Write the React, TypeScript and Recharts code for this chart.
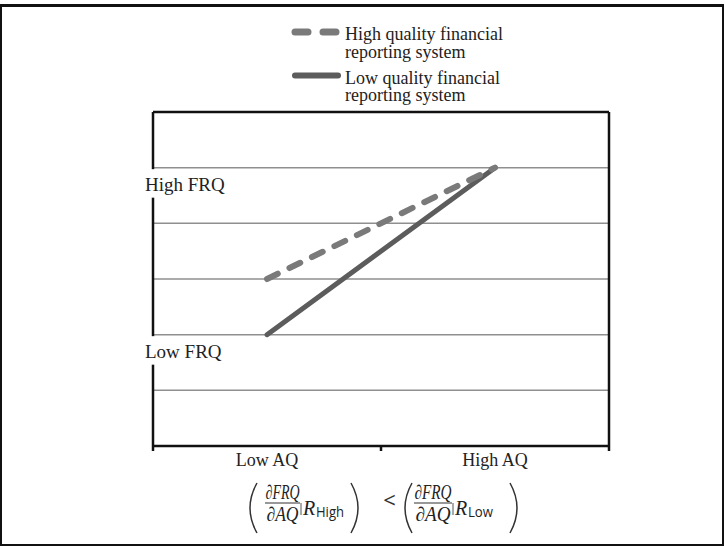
import React from 'react';
import { LineChart, Line, XAxis, YAxis, CartesianGrid, Legend } from 'recharts';

// ---- data ----
const categories = ['Low AQ', 'High AQ'];
const highQualityFRQ = [3, 5];
const lowQualityFRQ = [2, 5];
const yTickValues = [2, 5];
const yTickLabels = ['Low FRQ', 'High FRQ'];
const gridValues = [1, 2, 3, 4, 5];
const xTickValues = [0, 0.5, 1, 1.5, 2];
const seriesNames = [
  'High quality financial reporting system',
  'Low quality financial reporting system',
];

const data = categories.map((c, i) => ({
  x: i + 0.5,
  cat: c,
  high: highQualityFRQ[i],
  low: lowQualityFRQ[i],
}));

const SERIF = '"Liberation Serif", "Times New Roman", serif';
const SANS = '"Open Sans", "Noto Sans", sans-serif';
const AXIS = { stroke: '#111', strokeWidth: 2.5 };

const XTick = (props: any) => {
  const { x, y, payload } = props;
  const v = payload.value;
  if (Number.isInteger(v)) {
    return <line x1={x} x2={x} y1={y} y2={y + 5} stroke="#111" strokeWidth={2.5} />;
  }
  return (
    <text x={x} y={y + 20} textAnchor="middle" fontFamily={SERIF} fontSize={18} fill="#222">
      {categories[Math.floor(v)]}
    </text>
  );
};

const YTick = (props: any) => {
  const { x, y, payload } = props;
  const label = yTickLabels[yTickValues.indexOf(payload.value)];
  return (
    <g>
      <rect x={x - 4} y={y + 1.5} width={8} height={28.5} fill="#fff" />
      <text x={x - 8} y={y + 23} fontFamily={SERIF} fontSize={19} fill="#222">
        {label}
      </text>
    </g>
  );
};

const LegendContent = (props: any) => {
  const payload = props.payload || [];
  return (
    <svg width={724} height={112} style={{ display: 'block' }}>
      {payload.map((p: any, i: number) => {
        const words = String(p.value).split(' ');
        const l1 = words.slice(0, 3).join(' ');
        const l2 = words.slice(3).join(' ');
        const base = 40 + i * 43.5;
        const dashed = p.payload && p.payload.strokeDasharray;
        return (
          <g key={i}>
            <line
              x1={295}
              x2={dashed ? 337 : 338}
              y1={base - 8}
              y2={base - 8}
              stroke={p.color}
              strokeWidth={dashed ? 7 : 6}
              strokeLinecap="round"
              strokeDasharray={dashed ? '13 15' : undefined}
            />
            <text x={345} y={base} fontFamily={SERIF} fontSize={18} fill="#222">{l1}</text>
            <text x={345} y={base + 17.5} fontFamily={SERIF} fontSize={18} fill="#222">{l2}</text>
          </g>
        );
      })}
    </svg>
  );
};

const Paren = ({ x1, c, y0, y1 }: any) => (
  <path d={`M${x1},${y0} Q${c},${(y0 + y1) / 2} ${x1},${y1}`} fill="none" stroke="#333" strokeWidth={1.5} />
);

const Fraction = ({ cx, ay, x0, x1 }: any) => (
  <g>
    <text x={cx} y={ay + 53} textAnchor="middle" fontFamily={SERIF} fontStyle="italic" fontSize={20} fill="#222" textLength={x1 - x0 - 1} lengthAdjust="spacingAndGlyphs">∂FRQ</text>
    <line x1={x0} x2={x1} y1={ay + 57} y2={ay + 57} stroke="#333" strokeWidth={1.2} />
    <text x={cx} y={ay + 75} textAnchor="middle" fontFamily={SERIF} fontStyle="italic" fontSize={20} fill="#222" textLength={x1 - x0 - 3} lengthAdjust="spacingAndGlyphs">∂AQ</text>
  </g>
);

const Bar = ({ x, ay }: any) => (
  <line x1={x} x2={x} y1={ay + 57} y2={ay + 69} stroke="#555" strokeWidth={1} />
);

const Formula = (props: any) => {
  const vb = props.viewBox || {};
  const cx = vb.x + vb.width / 2;
  const ay = vb.y;
  const top = ay + 37;
  const bot = ay + 87;
  return (
    <g>
      <Paren x1={cx - 124} c={cx - 138} y0={top} y1={bot} />
      <Fraction cx={cx - 98.5} ay={ay} x0={cx - 116} x1={cx - 81} />
      <Bar x={cx - 80} ay={ay} />
      <text x={cx - 78} y={ay + 68.5} fontFamily={SERIF} fontStyle="italic" fontSize={20} fill="#222">R</text>
      <text x={cx - 65} y={ay + 71} fontFamily={SANS} fontSize={14} fill="#222" textLength={28} lengthAdjust="spacingAndGlyphs">High</text>
      <Paren x1={cx - 30} c={cx - 16} y0={top} y1={bot} />
      <text x={cx + 8.5} y={ay + 61.5} textAnchor="middle" fontFamily={SANS} fontSize={22} fill="#333">&lt;</text>
      <Paren x1={cx + 31} c={cx + 17} y0={top} y1={bot} />
      <Fraction cx={cx + 52} ay={ay} x0={cx + 33} x1={cx + 71} />
      <Bar x={cx + 72} ay={ay} />
      <text x={cx + 74} y={ay + 68.5} fontFamily={SERIF} fontStyle="italic" fontSize={20} fill="#222">R</text>
      <text x={cx + 87} y={ay + 71} fontFamily={SANS} fontSize={14} fill="#222" textLength={25} lengthAdjust="spacingAndGlyphs">Low</text>
      <Paren x1={cx + 129} c={cx + 143} y0={top} y1={bot} />
    </g>
  );
};

export default function App() {
  return (
    <div style={{ position: 'absolute', left: 0, top: 0, width: 725, height: 546, background: '#fff' }}>
      <LineChart
        width={725}
        height={546}
        data={data}
        margin={{ top: 111, left: 152, right: 115, bottom: 70 }}
      >
        <CartesianGrid vertical={false} horizontalValues={gridValues} stroke="#8f8f8f" strokeWidth={1.5} />
        <XAxis
          dataKey="x"
          type="number"
          domain={[0, 2]}
          ticks={xTickValues}
          interval={0}
          tickSize={0}
          tickMargin={0}
          tickLine={false}
          axisLine={AXIS}
          tick={<XTick />}
          height={30}
          label={{ content: <Formula /> } as any}
        />
        <XAxis xAxisId="top" orientation="top" dataKey="x" type="number" domain={[0, 2]} height={1} tick={false} tickLine={false} axisLine={AXIS} />
        <YAxis
          domain={[0, 6]}
          ticks={yTickValues}
          interval={0}
          width={1}
          tickSize={0}
          tickMargin={0}
          tickLine={false}
          axisLine={AXIS}
          tick={<YTick />}
        />
        <YAxis yAxisId="right" orientation="right" domain={[0, 6]} width={1} tick={false} tickLine={false} axisLine={AXIS} />
        <Legend
          layout="horizontal"
          verticalAlign="middle"
          align="center"
          wrapperStyle={{ top: 0, left: 0, width: 724, height: 112 }}
          content={<LegendContent />}
        />
        <Line
          type="linear"
          dataKey="low"
          name={seriesNames[1]}
          stroke="#5c5c5c"
          strokeWidth={5}
          strokeLinecap="round"
          dot={false}
          activeDot={false}
          isAnimationActive={false}
        />
        <Line
          type="linear"
          dataKey="high"
          name={seriesNames[0]}
          stroke="#7a7a7a"
          strokeWidth={6}
          strokeLinecap="round"
          strokeDasharray="12 13"
          dot={false}
          activeDot={false}
          isAnimationActive={false}
        />
      </LineChart>
      <div
        style={{
          position: 'absolute',
          left: 0,
          top: 4,
          width: 724,
          height: 542,
          boxSizing: 'border-box',
          borderStyle: 'solid',
          borderColor: '#111',
          borderWidth: '3px 2px 2px 2px',
          pointerEvents: 'none',
        }}
      />
    </div>
  );
}
